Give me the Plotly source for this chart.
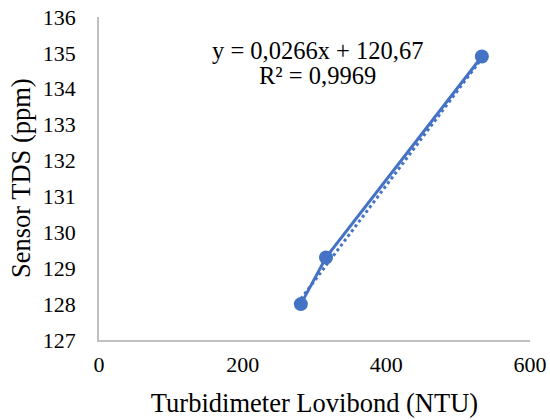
import plotly.graph_objects as go

# Data
turbidity_ntu = [281, 316, 533]
tds_ppm = [128.0, 129.3, 134.9]

# Linear trendline coefficients shown on the chart
slope = 0.0266
intercept = 120.67
r_squared = 0.9969

x_ticks = [0, 200, 400, 600]
y_ticks = [127, 128, 129, 130, 131, 132, 133, 134, 135, 136]

blue = "#4472C4"
font_family = "Liberation Serif, Times New Roman, serif"

trend_x = [min(turbidity_ntu), max(turbidity_ntu)]
trend_y = [slope * v + intercept for v in trend_x]

fig = go.Figure()
fig.add_trace(go.Scatter(
    x=trend_x, y=trend_y, mode="lines",
    line=dict(color=blue, width=3, dash="dot"),
    showlegend=False, hoverinfo="skip",
))
fig.add_trace(go.Scatter(
    x=turbidity_ntu, y=tds_ppm, mode="lines+markers",
    line=dict(color=blue, width=3),
    marker=dict(color=blue, size=14),
    showlegend=False,
))

eq_text = "y = {:.4f}x + {:.2f}".format(slope, intercept).replace(".", ",")
r2_text = "R² = {:.4f}".format(r_squared).replace(".", ",")
label_font = dict(family=font_family, size=24.5, color="black")
fig.add_annotation(x=304, y=135.08, xref="x", yref="y", text=eq_text,
                   showarrow=False, yanchor="middle", font=label_font)
fig.add_annotation(x=304, y=134.36, xref="x", yref="y", text=r2_text,
                   showarrow=False, yanchor="middle", font=label_font)

# Y axis title placed as rotated text left of the tick labels
fig.add_annotation(x=-0.182, y=0.5, xref="paper", yref="paper",
                   text="Sensor TDS (ppm)", textangle=-90, showarrow=False,
                   xanchor="center", yanchor="middle",
                   font=dict(family=font_family, size=26.5, color="black"))

fig.update_layout(
    width=550, height=420,
    margin=dict(l=99, r=20, t=17, b=80, autoexpand=False),
    paper_bgcolor="white", plot_bgcolor="white",
    font=dict(family=font_family, color="black"),
)
fig.update_xaxes(
    range=[0, 600], tickvals=x_ticks, showgrid=False, zeroline=False,
    showline=True, linecolor="#BFBFBF", linewidth=1.5,
    tickfont=dict(size=22, family=font_family), ticks="",
    ticklabelstandoff=4, automargin=False,
    title=dict(text="Turbidimeter Lovibond (NTU)", font=dict(size=26.5, family=font_family), standoff=17),
)
fig.update_yaxes(
    range=[127, 136], tickvals=y_ticks, showgrid=False, zeroline=False,
    showline=True, linecolor="#BFBFBF", linewidth=1.5,
    tickfont=dict(size=22, family=font_family), ticks="",
    ticklabelstandoff=17, automargin=False,
)

fig.write_html("out.html", config={"displayModeBar": False},
               post_script="document.body.style.margin='0px';")
